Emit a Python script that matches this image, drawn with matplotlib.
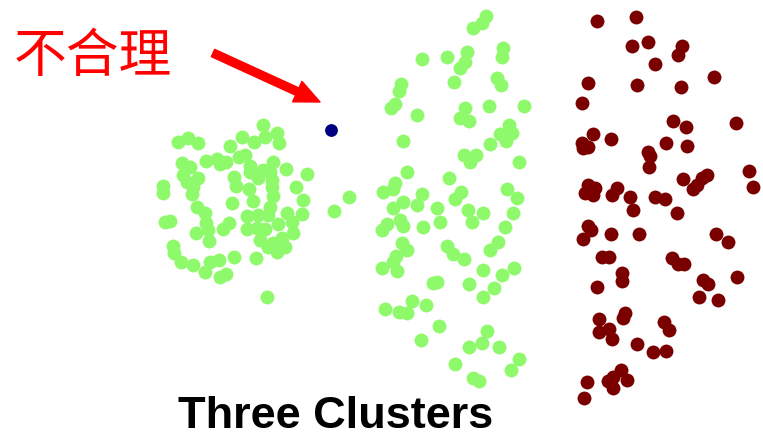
import matplotlib
matplotlib.use('Agg')
from matplotlib import pyplot as plt

# point positions (pixel-like units, y grows downward)
left_x = [263, 277, 265, 279, 254, 242, 230, 178, 188, 198, 239, 245, 226, 217, 206,
          220, 182, 190, 250, 250, 273, 286, 307, 183, 198, 187, 193, 234, 236, 263,
          258, 270, 272, 272, 249, 163, 163, 192, 296, 303, 273, 253, 232, 197, 270,
          205, 170, 165, 206, 208, 196, 209, 223, 229, 247, 258, 268, 287, 302, 278,
          292, 247, 257, 265, 293, 260, 268, 282, 277, 285, 273, 173, 174, 181, 193,
          205, 210, 219, 234, 256, 220, 226, 267, 334, 349]
left_y = [125, 133, 137, 143, 142, 137, 146, 142, 138, 143, 157, 155, 162, 159, 161,
          164, 163, 167, 166, 172, 162, 169, 174, 175, 178, 182, 187, 177, 186, 170,
          178, 172, 180, 187, 189, 186, 193, 194, 187, 200, 196, 201, 203, 207, 207,
          213, 221, 222, 223, 230, 233, 241, 229, 223, 216, 215, 215, 213, 214, 224,
          222, 229, 228, 229, 233, 240, 247, 238, 252, 247, 243, 246, 253, 262, 265,
          272, 262, 260, 257, 258, 277, 274, 297, 211, 197]

mid_x = [486, 482, 473, 503, 502, 467, 465, 460, 447, 422, 454, 497, 501, 401, 399,
         395, 391, 417, 465, 460, 469, 489, 524, 403, 509, 500, 512, 506, 490, 464,
         476, 470, 519, 407, 449, 395, 393, 383, 422, 461, 507, 517, 403, 455,
         393, 417, 437, 468, 483, 513, 472, 440, 423, 505, 400, 403, 387, 382, 402,
         407, 396, 393, 397, 382, 447, 453, 464, 498, 490, 514, 483, 502, 437, 433,
         469, 494, 483, 385, 399, 407, 412, 426, 439, 421, 487, 482, 469, 499, 519,
         511, 455, 473, 479]
mid_y = [16, 23, 28, 48, 57, 52, 62, 68, 57, 59, 82, 78, 85, 84, 91,
         104, 108, 115, 108, 118, 121, 106, 106, 141, 125, 134, 133, 141, 144, 155,
         155, 162, 162, 172, 178, 183, 189, 192, 194, 192, 189, 198, 202, 199,
         208, 205, 208, 210, 213, 213, 222, 222, 227, 227, 220, 226, 224, 230, 243,
         250, 256, 262, 271, 268, 246, 254, 259, 242, 250, 268, 270, 275, 282, 283,
         284, 288, 297, 309, 312, 313, 301, 305, 326, 340, 331, 343, 347, 347, 359,
         370, 364, 378, 381]

right_x = [597, 636, 632, 648, 682, 678, 655, 714, 588, 637, 681, 582,
           673, 686, 736, 593, 611, 582, 583, 588, 666, 687, 648, 650, 649, 749,
           753, 683, 707, 702, 697, 693, 588, 595, 585, 593, 617, 612, 630, 655, 665,
           633, 677, 588, 591, 583, 611, 639, 716, 728, 602, 609, 672, 678, 684,
           622, 622, 597, 703, 708, 737, 699, 718,
           599, 625, 623, 599, 609, 612, 637, 664, 669, 653, 666, 587, 584, 608,
           613, 621, 627, 613]
right_y = [21, 17, 46, 42, 46, 55, 64, 77, 83, 85, 87, 103,
           121, 127, 123, 134, 139, 143, 148, 147, 143, 146, 152, 156, 167, 171,
           187, 179, 175, 178, 185, 189, 185, 188, 193, 195, 188, 195, 197, 197, 199,
           210, 213, 226, 230, 239, 234, 234, 234, 242, 257, 257, 258, 264, 264,
           273, 281, 287, 280, 284, 277, 297, 300,
           319, 313, 318, 332, 329, 339, 344, 322, 330, 352, 351, 382, 398, 381,
           377, 370, 380, 388]

odd_x = [331]
odd_y = [130]

arrow_start = (213, 53)
arrow_end = (320, 102)

fig = plt.figure(figsize=(7.63, 4.41), dpi=100)
ax = fig.add_axes([0, 0, 1, 1])
ax.set_xlim(0, 763)
ax.set_ylim(441, 0)
ax.axis('off')

ax.scatter(left_x, left_y, s=100, color='#8ef96b', linewidths=0)
ax.scatter(mid_x, mid_y, s=100, color='#8ef96b', linewidths=0)
ax.scatter(right_x, right_y, s=100, color='#7a0000', linewidths=0)
ax.scatter(odd_x, odd_y, s=85, color='#000080', linewidths=0)

ax.annotate('', xy=arrow_end, xytext=arrow_start,
            arrowprops=dict(arrowstyle='simple,head_length=1.5,head_width=1.35,tail_width=0.48',
                            color='red', mutation_scale=12, shrinkA=0, shrinkB=0))

ax.text(14, 56, '不合理', color='red', fontsize=38, ha='left', va='center',
        family=['Noto Sans CJK SC', 'DejaVu Sans'])
ax.text(336, 428, 'Three Clusters', fontsize=32.5, fontweight='bold', ha='center',
        va='baseline', family='Liberation Sans')

fig.savefig('out.png', dpi=100)
